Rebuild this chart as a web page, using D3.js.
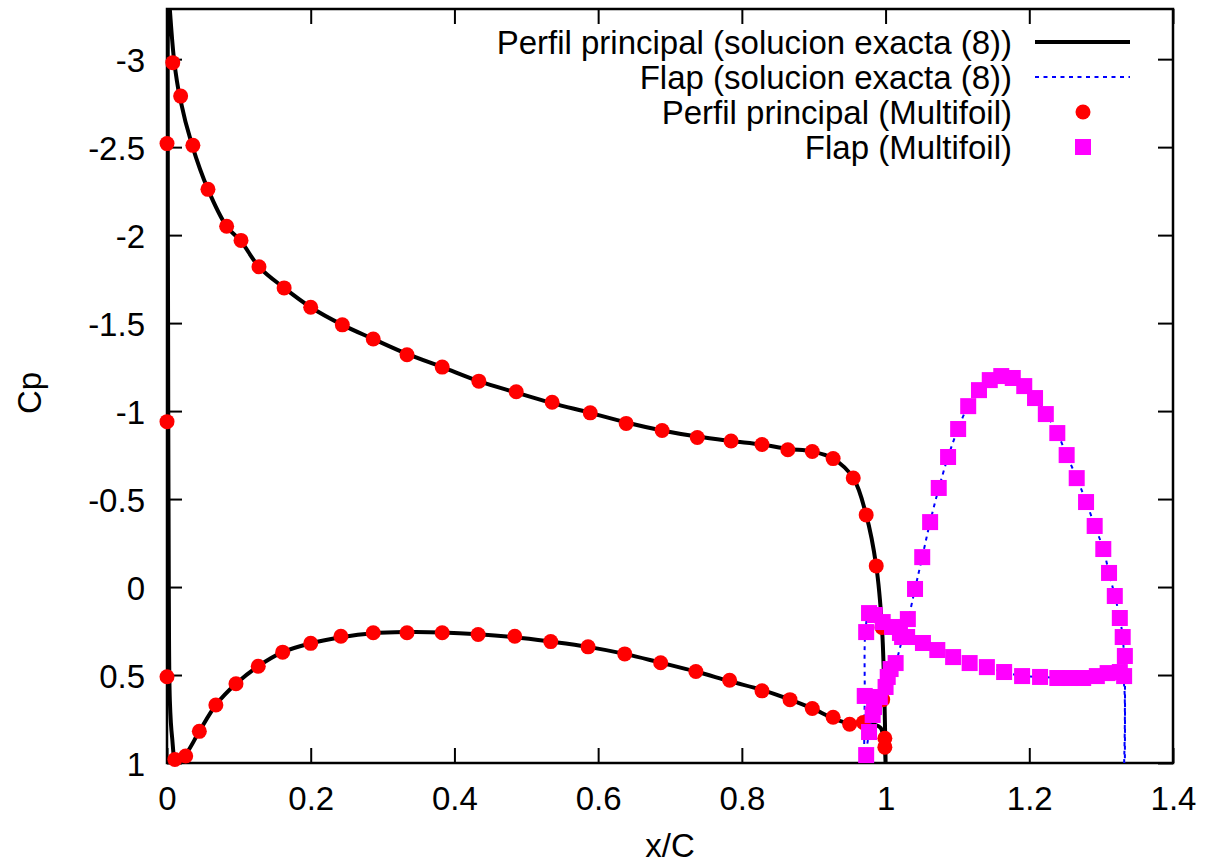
<!DOCTYPE html>
<html>
<head>
<meta charset="utf-8">
<script src="https://cdn.jsdelivr.net/npm/d3@7"></script>
<style>
  html, body { margin: 0; padding: 0; background: #fff; }
  svg { display: block; }
  text { font-family: "Liberation Sans", Arial, Helvetica, sans-serif; fill: #000; }
</style>
</head>
<body>
<svg id="chart" width="1209" height="864"></svg>
<script>
// ---------- DATA ----------
const xTicks = [0, 0.2, 0.4, 0.6, 0.8, 1, 1.2, 1.4];
const yTicks = [-3, -2.5, -2, -1.5, -1, -0.5, 0, 0.5, 1];

// Exact solution, main airfoil (ordered along contour: lower TE -> LE -> upper TE)
const mainExactX = [1.000, 0.998, 0.993, 0.983, 0.969, 0.950, 0.927, 0.898, 0.867, 0.828, 0.783, 0.736, 0.687, 0.637, 0.586, 0.534, 0.484, 0.433, 0.383, 0.334, 0.287, 0.242, 0.200, 0.161, 0.127, 0.096, 0.068, 0.045, 0.026, 0.013, 0.007, 0.004, 0.0025, 0.0015, 0.001, 0.002,
  0.004, 0.010, 0.018, 0.035, 0.057, 0.083, 0.103, 0.128, 0.163, 0.200, 0.244, 0.287, 0.334, 0.383, 0.434, 0.486, 0.536, 0.589, 0.639, 0.689, 0.738, 0.785, 0.828, 0.864, 0.898, 0.927, 0.955, 0.973, 0.987, 0.995, 0.9985, 1.000];
const mainExactCp = [1.00, 0.88, 0.80, 0.78, 0.77, 0.775, 0.745, 0.69, 0.64, 0.585, 0.535, 0.48, 0.43, 0.38, 0.34, 0.31, 0.285, 0.268, 0.258, 0.256, 0.262, 0.285, 0.32, 0.37, 0.45, 0.55, 0.67, 0.82, 0.95, 0.995, 0.85, 0.65, 0.0, -1.5, -3.0, -3.4,
  -3.28, -2.99, -2.78, -2.51, -2.26, -2.05, -1.965, -1.82, -1.70, -1.59, -1.49, -1.41, -1.325, -1.25, -1.17, -1.105, -1.045, -0.99, -0.935, -0.89, -0.855, -0.83, -0.81, -0.785, -0.77, -0.73, -0.62, -0.41, -0.12, 0.23, 0.65, 1.00];

// Exact solution, flap (ordered: TE -> lower -> LE -> upper -> TE)
const flapExactX = [1.332, 1.332, 1.328, 1.309, 1.294, 1.275, 1.257, 1.239, 1.215, 1.190, 1.165, 1.141, 1.117, 1.094, 1.072, 1.052, 1.030, 1.020, 1.009, 0.996, 0.985, 0.977, 0.972, 0.971, 0.971,
  0.975, 0.982, 0.992, 1.003, 1.014, 1.023, 1.031, 1.041, 1.051, 1.062, 1.074, 1.087, 1.101, 1.115, 1.130, 1.145, 1.161, 1.177, 1.193, 1.208, 1.223, 1.239, 1.252, 1.266, 1.279, 1.291, 1.303, 1.311, 1.319, 1.326, 1.330, 1.332, 1.333, 1.333];
const flapExactCp = [1.00, 0.56, 0.49, 0.49, 0.505, 0.515, 0.517, 0.516, 0.511, 0.505, 0.483, 0.456, 0.432, 0.398, 0.358, 0.318, 0.284, 0.262, 0.23, 0.20, 0.16, 0.15, 0.25, 0.60, 1.00,
  0.88, 0.73, 0.63, 0.52, 0.43, 0.30, 0.19, 0.01, -0.17, -0.37, -0.56, -0.74, -0.90, -1.03, -1.12, -1.175, -1.20, -1.19, -1.145, -1.075, -0.985, -0.875, -0.75, -0.62, -0.485, -0.35, -0.215, -0.08, 0.05, 0.175, 0.285, 0.40, 0.50, 1.00];

// Multifoil, main airfoil
const mainPtsX = [0.000, 0.000, 0.008, 0.019, 0.036, 0.057, 0.083, 0.103, 0.128, 0.163, 0.200, 0.244, 0.287, 0.334, 0.383, 0.434, 0.486, 0.536, 0.589, 0.639, 0.689, 0.738, 0.785, 0.828, 0.864, 0.898, 0.927, 0.955, 0.973, 0.987, 0.995, 0.999, 0.999,
  0.000, 0.011, 0.026, 0.045, 0.068, 0.096, 0.127, 0.161, 0.200, 0.242, 0.287, 0.334, 0.383, 0.433, 0.484, 0.534, 0.586, 0.637, 0.687, 0.736, 0.783, 0.828, 0.867, 0.898, 0.927, 0.950, 0.969, 0.996];
const mainPtsCp = [-0.94, -2.52, -2.98, -2.79, -2.51, -2.26, -2.05, -1.97, -1.82, -1.70, -1.59, -1.49, -1.41, -1.32, -1.25, -1.17, -1.11, -1.05, -0.99, -0.93, -0.89, -0.85, -0.83, -0.81, -0.78, -0.77, -0.73, -0.62, -0.41, -0.12, 0.23, 0.86, 0.91,
  0.51, 0.98, 0.96, 0.82, 0.67, 0.55, 0.45, 0.37, 0.32, 0.28, 0.26, 0.26, 0.26, 0.27, 0.28, 0.31, 0.34, 0.38, 0.43, 0.48, 0.53, 0.59, 0.64, 0.69, 0.74, 0.78, 0.77, 0.64];

// Multifoil, flap
const flapPtsX = [0.973, 0.977, 0.982, 0.984, 0.992, 1.000, 1.003, 1.007, 1.014, 1.023, 1.031, 1.041, 1.051, 1.062, 1.074, 1.087, 1.101, 1.115, 1.130, 1.145, 1.161, 1.177, 1.193, 1.208, 1.223, 1.239, 1.252, 1.266, 1.279, 1.291, 1.303, 1.311, 1.319, 1.326, 1.330, 1.333, 1.332,
  0.971, 0.973, 0.977, 0.985, 0.996, 1.009, 1.020, 1.030, 1.052, 1.072, 1.094, 1.117, 1.141, 1.165, 1.190, 1.215, 1.239, 1.257, 1.275, 1.294, 1.309, 1.326];
const flapPtsCp = [0.955, 0.824, 0.727, 0.682, 0.625, 0.568, 0.511, 0.466, 0.432, 0.284, 0.182, 0.011, -0.170, -0.369, -0.563, -0.739, -0.898, -1.028, -1.119, -1.176, -1.199, -1.188, -1.142, -1.074, -0.983, -0.875, -0.750, -0.619, -0.483, -0.347, -0.216, -0.080, 0.051, 0.176, 0.284, 0.392, 0.506,
  0.619, 0.256, 0.148, 0.159, 0.199, 0.227, 0.261, 0.284, 0.318, 0.358, 0.398, 0.432, 0.455, 0.483, 0.506, 0.511, 0.517, 0.517, 0.517, 0.506, 0.489, 0.483];

const legendLabels = ["Perfil principal (solucion exacta (8))", "Flap (solucion exacta (8))", "Perfil principal (Multifoil)", "Flap (Multifoil)"];

// ---------- LAYOUT ----------
const L = 167, R = 1173, T = 9, B = 763;
const svg = d3.select("#chart");
const x = d3.scaleLinear().domain([0, 1.4]).range([L, R]);
const y = d3.scaleLinear().domain([-3.285, 1]).range([T, B]);
const fmt = d => String(Math.round(d * 10) / 10);
const FS = 33;
const LFS = 33;

svg.append("defs").append("clipPath").attr("id", "clip")
  .append("rect").attr("x", L).attr("y", T).attr("width", R - L).attr("height", B - T);

// axes (inward ticks, mirrored)
function styleAxis(g) {
  g.select(".domain").remove();
  g.selectAll(".tick line").attr("stroke", "#000").attr("stroke-width", 2);
}
const gB = svg.append("g").attr("transform", `translate(0,${B})`)
  .call(d3.axisBottom(x).tickValues(xTicks).tickSizeInner(-15).tickSizeOuter(0).tickFormat(fmt));
styleAxis(gB);
gB.selectAll("text").attr("y", 47).attr("dy", null).style("font-size", FS + "px");

const gT = svg.append("g").attr("transform", `translate(0,${T})`)
  .call(d3.axisTop(x).tickValues(xTicks).tickSizeInner(-15).tickSizeOuter(0).tickFormat(""));
styleAxis(gT);

const gL = svg.append("g").attr("transform", `translate(${L},0)`)
  .call(d3.axisLeft(y).tickValues(yTicks).tickSizeInner(-15).tickSizeOuter(0).tickFormat(fmt));
styleAxis(gL);
gL.selectAll("text").attr("x", -22).attr("dy", "0.38em").style("font-size", FS + "px");

const gR = svg.append("g").attr("transform", `translate(${R},0)`)
  .call(d3.axisRight(y).tickValues(yTicks).tickSizeInner(-15).tickSizeOuter(0).tickFormat(""));
styleAxis(gR);

svg.selectAll(".tick text").attr("fill", "#000").style("font-family", '"Liberation Sans", Arial, sans-serif');

// frame
svg.append("rect").attr("x", L).attr("y", T).attr("width", R - L).attr("height", B - T)
  .attr("fill", "none").attr("stroke", "#000").attr("stroke-width", 2.5);

// axis titles
svg.append("text").attr("x", 670).attr("y", 857).attr("text-anchor", "middle")
  .style("font-size", FS + "px").text("x/C");
svg.append("text").attr("transform", "translate(41,393) rotate(-90)").attr("text-anchor", "middle")
  .style("font-size", FS + "px").text("Cp");

// lines
const plot = svg.append("g").attr("clip-path", "url(#clip)");
const line = d3.line().x(d => x(d[0])).y(d => y(d[1])).curve(d3.curveCatmullRom.alpha(0.5));
const mainExact = mainExactX.map((v, i) => [v, mainExactCp[i]]);
const flapExact = flapExactX.map((v, i) => [v, flapExactCp[i]]);

plot.append("path").datum(mainExact).attr("d", line)
  .attr("fill", "none").attr("stroke", "#000").attr("stroke-width", 4).attr("stroke-linejoin", "round");
plot.append("path").datum(flapExact).attr("d", line)
  .attr("fill", "none").attr("stroke", "#0000ff").attr("stroke-width", 2).attr("stroke-dasharray", "4,4.5");

// points
const mainPts = mainPtsX.map((v, i) => [v, mainPtsCp[i]]);
const flapPts = flapPtsX.map((v, i) => [v, flapPtsCp[i]]);
svg.append("g").selectAll("circle").data(mainPts).join("circle")
  .attr("cx", d => x(d[0])).attr("cy", d => y(d[1])).attr("r", 7.5).attr("fill", "#ff0000");
svg.append("g").selectAll("rect").data(flapPts).join("rect")
  .attr("x", d => x(d[0]) - 8).attr("y", d => y(d[1]) - 8).attr("width", 16).attr("height", 16).attr("fill", "#ff00ff");

// legend
const legY = [42, 77, 112, 147];
const lg = svg.append("g");
legendLabels.forEach((t, i) => {
  lg.append("text").attr("x", 1012).attr("y", legY[i]).attr("dy", "0.35em").attr("text-anchor", "end")
    .style("font-size", LFS + "px").text(t);
});
lg.append("line").attr("x1", 1035).attr("x2", 1130).attr("y1", legY[0]).attr("y2", legY[0])
  .attr("stroke", "#000").attr("stroke-width", 4);
lg.append("line").attr("x1", 1035).attr("x2", 1130).attr("y1", legY[1]).attr("y2", legY[1])
  .attr("stroke", "#0000ff").attr("stroke-width", 2).attr("stroke-dasharray", "4,4.5");
lg.append("circle").attr("cx", 1083).attr("cy", legY[2]).attr("r", 7.5).attr("fill", "#ff0000");
lg.append("rect").attr("x", 1083 - 8).attr("y", legY[3] - 8).attr("width", 16).attr("height", 16).attr("fill", "#ff00ff");
</script>
</body>
</html>
